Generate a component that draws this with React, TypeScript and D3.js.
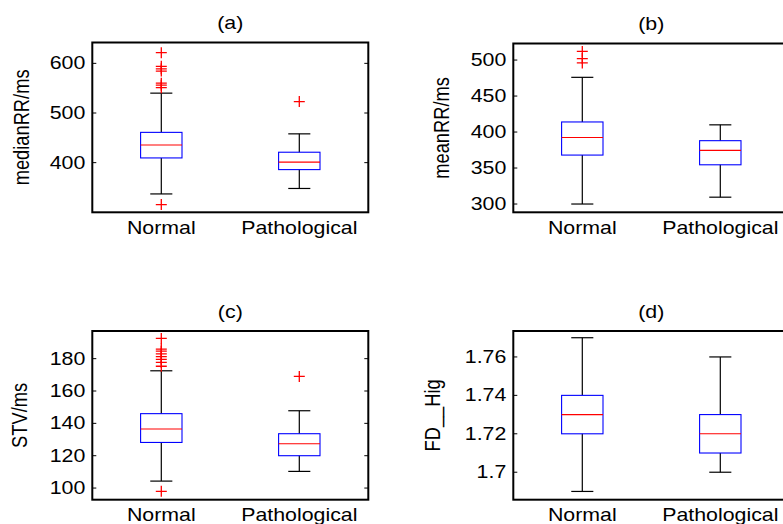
import React from "react";
import * as d3 from "d3";

// groups
const categories = ["Normal", "Pathological"];

// box stats: [lower whisker, q1, median, q3, upper whisker]
const medianRRNormal = [337, 409.5, 435.5, 461, 540];
const medianRRPatho = [348, 386, 401, 421, 458];
const medianRROutNormal = [621.5, 594, 589, 584.5, 560, 556, 551, 315.5];
const medianRROutPatho = [523];
const medianRRTicks = [400, 500, 600];
const medianRRLimits = [300, 642];

const meanRRNormal = [300, 368, 392.5, 414, 476];
const meanRRPatho = [309.5, 354.5, 374.5, 388, 410];
const meanRROutNormal = [512, 502, 496];
const meanRROutPatho: number[] = [];
const meanRRTicks = [300, 350, 400, 450, 500];
const meanRRLimits = [288.5, 523];

const stvNormal = [104.3, 128.2, 136.5, 146, 172.5];
const stvPatho = [110.3, 120, 127.4, 133.6, 147.8];
const stvOutNormal = [192.5, 185.9, 184.6, 183, 181.2, 179.6, 177.7, 175.3, 98];
const stvOutPatho = [169];
const stvTicks = [100, 120, 140, 160, 180];
const stvLimits = [92.8, 197.1];

const fdNormal = [1.69, 1.72, 1.73, 1.74, 1.77];
const fdPatho = [1.7, 1.71, 1.72, 1.73, 1.76];
const fdOutNormal: number[] = [];
const fdOutPatho: number[] = [];
const fdTicks = [1.7, 1.72, 1.74, 1.76];
const fdLimits = [1.6857, 1.7735];

const FONT = "'Liberation Sans', Arial, sans-serif";
const SX = 1.22; // text in the picture is stretched horizontally

function SText({ x, y, anchor = "middle", size = 17.5, rotate = 0, children }: any) {
  return (
    <g transform={`translate(${x},${y}) scale(${SX},1) rotate(${rotate})`}>
      <text textAnchor={anchor} fontFamily={FONT} fontSize={size} fill="#000">
        {children}
      </text>
    </g>
  );
}

function plusPath(cx: number, cy: number, r: number) {
  return `M${cx - r},${cy}H${cx + r}M${cx},${cy - r}V${cy + r}`;
}

function Panel({ box, title, ylabel, ylabelX, limits, ticks, fmt, stats, outliers }: any) {
  const [x0, y0, x1, y1] = box;
  const x = d3.scaleLinear().domain([0.5, 2.5]).range([x0, x1]);
  const y = d3.scaleLinear().domain(limits).range([y1, y0]);
  const halfBox = 0.15;
  const halfCap = 0.08;
  return (
    <g>
      <SText x={(x0 + x1) / 2} y={y0 - 13.5}>{title}</SText>
      <SText x={ylabelX} y={(y0 + y1) / 2} rotate={-90} size={18.3}>{ylabel}</SText>
      {ticks.map((t: number) => (
        <g key={t}>
          <line x1={x0} x2={x0 + 4} y1={y(t)} y2={y(t)} stroke="#000" />
          <line x1={x1} x2={x1 - 4} y1={y(t)} y2={y(t)} stroke="#000" />
          <SText x={x0 - 7} y={y(t) + 6} anchor="end">{fmt(t)}</SText>
        </g>
      ))}
      {stats.map((s: number[], i: number) => {
        const p = i + 1;
        const [lo, q1, med, q3, hi] = s;
        return (
          <g key={i}>
            <line x1={x(p)} x2={x(p)} y1={y(q3)} y2={y(hi)} stroke="#000" strokeWidth={1.2} />
            <line x1={x(p)} x2={x(p)} y1={y(q1)} y2={y(lo)} stroke="#000" strokeWidth={1.2} />
            <line x1={x(p - halfCap)} x2={x(p + halfCap)} y1={y(hi)} y2={y(hi)} stroke="#000" strokeWidth={1.2} />
            <line x1={x(p - halfCap)} x2={x(p + halfCap)} y1={y(lo)} y2={y(lo)} stroke="#000" strokeWidth={1.2} />
            <rect
              x={x(p - halfBox)}
              y={y(q3)}
              width={x(p + halfBox) - x(p - halfBox)}
              height={y(q1) - y(q3)}
              fill="none"
              stroke="#0000ff"
              strokeWidth={1.1}
            />
            <line x1={x(p - halfBox)} x2={x(p + halfBox)} y1={y(med)} y2={y(med)} stroke="#ff0000" strokeWidth={1.1} />
            {outliers[i].map((o: number, j: number) => (
              <path key={j} d={plusPath(x(p), y(o), 5.5)} stroke="#ff0000" strokeWidth={1.3} fill="none" />
            ))}
          </g>
        );
      })}
      <rect x={x0} y={y0} width={x1 - x0} height={y1 - y0} fill="none" stroke="#000" strokeWidth={2} />
      {categories.map((c, i) => (
        <SText key={c} x={x(i + 1)} y={y1 + 21.5}>{c}</SText>
      ))}
    </g>
  );
}

export default function App() {
  const plain = (t: number) => String(t);
  return (
    <svg width={783} height={524} style={{ position: "absolute", left: 0, top: 0, background: "#fff" }}>
      <rect width={783} height={524} fill="#fff" />
      <Panel
        box={[92.3, 42.5, 368.3, 212.3]}
        title="(a)"
        ylabel="medianRR/ms"
        ylabelX={29}
        limits={medianRRLimits}
        ticks={medianRRTicks}
        fmt={plain}
        stats={[medianRRNormal, medianRRPatho]}
        outliers={[medianRROutNormal, medianRROutPatho]}
      />
      <Panel
        box={[513.3, 43.5, 789.3, 212.3]}
        title="(b)"
        ylabel="meanRR/ms"
        ylabelX={449}
        limits={meanRRLimits}
        ticks={meanRRTicks}
        fmt={plain}
        stats={[meanRRNormal, meanRRPatho]}
        outliers={[meanRROutNormal, meanRROutPatho]}
      />
      <Panel
        box={[92.3, 331, 368.3, 499.7]}
        title="(c)"
        ylabel="STV/ms"
        ylabelX={27}
        limits={stvLimits}
        ticks={stvTicks}
        fmt={plain}
        stats={[stvNormal, stvPatho]}
        outliers={[stvOutNormal, stvOutPatho]}
      />
      <Panel
        box={[513.3, 331, 789.3, 499.7]}
        title="(d)"
        ylabel="FD__Hig"
        ylabelX={440}
        limits={fdLimits}
        ticks={fdTicks}
        fmt={(t: number) => d3.format(".2~f")(t)}
        stats={[fdNormal, fdPatho]}
        outliers={[fdOutNormal, fdOutPatho]}
      />
    </svg>
  );
}
